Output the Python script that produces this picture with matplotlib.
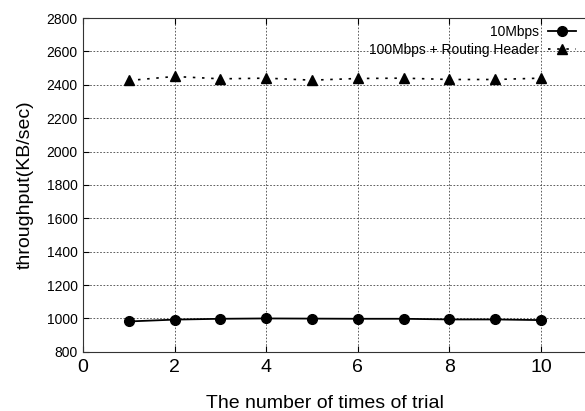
import matplotlib
matplotlib.use("Agg")
import matplotlib.pyplot as plt

plt.rcParams['font.family'] = ['Liberation Sans', 'DejaVu Sans']

trials = [1, 2, 3, 4, 5, 6, 7, 8, 9, 10]
mbps10 = [982, 993, 998, 1000, 999, 998, 998, 994, 994, 990]
mbps100_rh = [2426, 2450, 2436, 2440, 2428, 2438, 2440, 2432, 2432, 2440]

fig = plt.figure(figsize=(5.85, 4.11), dpi=100)
ax = fig.add_axes([0.142, 0.144, 0.858, 0.812])

ax.plot(trials, mbps10, color='black', linestyle='-', linewidth=1.3,
        marker='o', markersize=7, label='10Mbps')
ax.plot(trials, mbps100_rh, color='black', linestyle=(0, (1.5, 4)), linewidth=1.2,
        marker='^', markersize=7, label='100Mbps + Routing Header')

ax.set_xlim(0, 10.96)
ax.set_ylim(800, 2800)
ax.set_xticks([0, 2, 4, 6, 8, 10])
ax.set_yticks(range(800, 2801, 200))
ax.tick_params(axis='x', labelsize=14, direction='in', length=4, top=True, pad=5)
ax.tick_params(axis='y', labelsize=10, direction='in', length=4, pad=4)
ax.grid(True, linestyle=(0, (2, 2)), color='#444444', linewidth=0.6)
ax.spines['right'].set_visible(False)
for s in ['left', 'bottom', 'top']:
    ax.spines[s].set_color('#333333')

ax.set_xlabel('The number of times of trial', fontsize=14)
ax.xaxis.set_label_coords(0.482, -0.13)
ax.set_ylabel('throughput(KB/sec)', fontsize=14)
ax.yaxis.set_label_coords(-0.098, 0.5)

ax.legend(loc='upper right', frameon=False, markerfirst=False, fontsize=10,
          handlelength=2.0, borderaxespad=0.1, labelspacing=0.25,
          handletextpad=0.6, bbox_to_anchor=(0.995, 1.0))

fig.savefig('out.png', dpi=100)
